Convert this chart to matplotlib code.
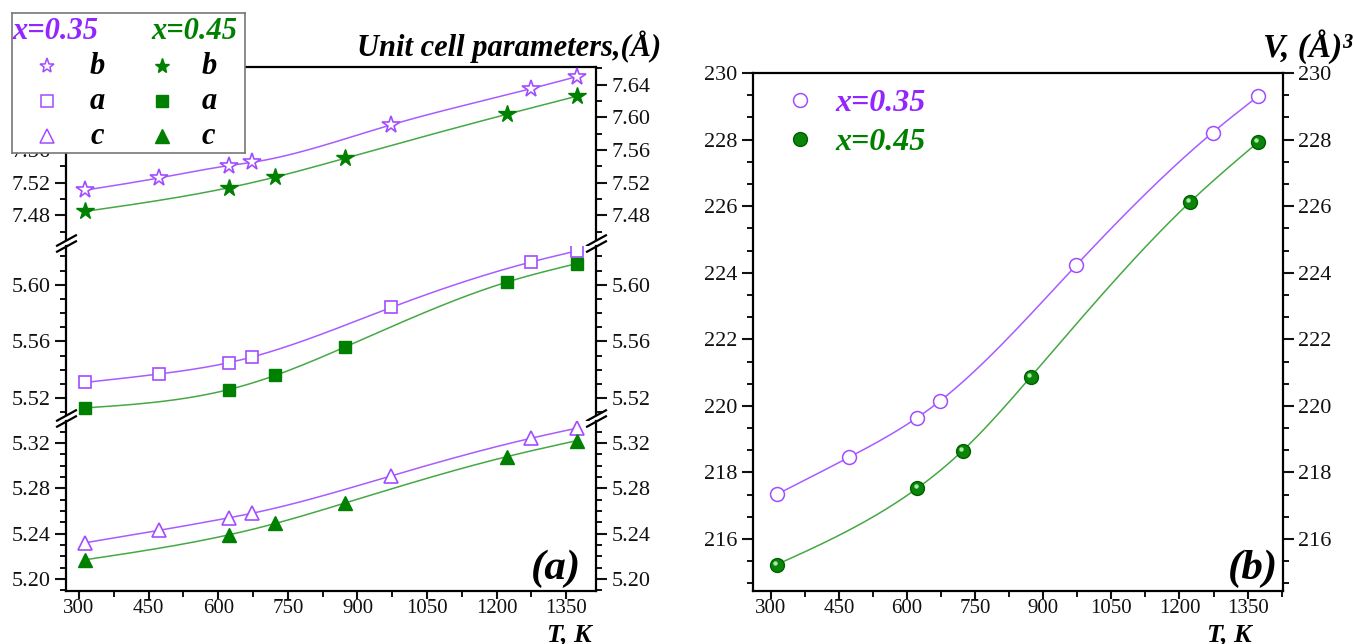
import numpy as np
import matplotlib
matplotlib.use("Agg")
import matplotlib.pyplot as plt
import matplotlib.transforms as mtransforms
from matplotlib.ticker import MultipleLocator

plt.rcParams['font.family'] = ['Liberation Serif', 'DejaVu Serif']

# temperatures, K
T35 = [313, 473, 623, 673, 973, 1273, 1373]
T45 = [313, 623, 723, 873, 1223, 1373]
# lattice parameters, Angstrom
b35 = [7.511, 7.526, 7.541, 7.545, 7.591, 7.635, 7.650]
b45 = [7.485, 7.514, 7.527, 7.550, 7.604, 7.626]
a35 = [5.531, 5.537, 5.545, 5.549, 5.584, 5.616, 5.624]
a45 = [5.513, 5.526, 5.536, 5.556, 5.602, 5.615]
c35 = [5.232, 5.243, 5.254, 5.258, 5.291, 5.324, 5.333]
c45 = [5.217, 5.239, 5.249, 5.267, 5.308, 5.322]
# cell volume, A^3
V35 = [217.34, 218.46, 219.65, 220.15, 224.23, 228.21, 229.30]
V45 = [215.23, 217.53, 218.66, 220.88, 226.12, 227.92]

xticks = [300, 450, 600, 750, 900, 1050, 1200, 1350]

PURPLE = '#a24cff'
PTEXT = '#9326ff'
GREEN = '#008000'
PLINE = '#a85cff'
GLINE = '#45a845'
BI = dict(fontweight='bold', fontstyle='italic')


def smooth(x, y, n=300):
    # natural cubic spline, only for drawing the connecting curve
    x = np.asarray(x, float)
    y = np.asarray(y, float)
    m = len(x)
    h = np.diff(x)
    A = np.zeros((m, m))
    r = np.zeros(m)
    A[0, 0] = A[-1, -1] = 1
    for i in range(1, m - 1):
        A[i, i - 1] = h[i - 1]
        A[i, i] = 2 * (h[i - 1] + h[i])
        A[i, i + 1] = h[i]
        r[i] = 3 * ((y[i + 1] - y[i]) / h[i] - (y[i] - y[i - 1]) / h[i - 1])
    c = np.linalg.solve(A, r)
    b = (y[1:] - y[:-1]) / h - h * (2 * c[:-1] + c[1:]) / 3
    d = (c[1:] - c[:-1]) / (3 * h)
    xs = np.linspace(x[0], x[-1], n)
    idx = np.clip(np.searchsorted(x, xs) - 1, 0, m - 2)
    dx = xs - x[idx]
    return xs, y[idx] + b[idx] * dx + c[idx] * dx ** 2 + d[idx] * dx ** 3


def style(ax):
    for s in ax.spines.values():
        s.set_linewidth(1.6)
    ax.tick_params(axis='both', which='major', direction='out', length=8,
                   width=1.5, labelsize=16, colors='#111111', pad=3)
    ax.tick_params(axis='x', which='major', pad=0, length=6, labelsize=15)
    ax.tick_params(axis='both', which='minor', direction='out', length=4,
                   width=1.3)
    ax.tick_params(axis='y', which='both', left=True, right=True,
                   labelleft=True, labelright=True)
    ax.tick_params(axis='x', which='both', top=False)


fig = plt.figure(figsize=(13.54, 6.44), dpi=100)
W, H = 1354.0, 644.0


def rect(x0, y0, x1, y1):
    return [x0 / W, 1 - y1 / H, (x1 - x0) / W, (y1 - y0) / H]


# ---- (a) broken axis ----
ax_b = fig.add_axes(rect(66, 67, 596, 240))
ax_a = fig.add_axes(rect(66, 246, 596, 415))
ax_c = fig.add_axes(rect(66, 421, 596, 591))

panels = [
    (ax_b, b35, b45, '*', (7.450, 7.6617), 0.04, 0.02, 13),
    (ax_a, a35, a45, 's', (5.508, 5.6274), 0.04, 0.01, 9),
    (ax_c, c35, c45, '^', (5.1895, 5.3393), 0.04, 0.01, 10),
]
for ax, y35, y45, mk, ylim, maj, mnr, ms in panels:
    xs, ys = smooth(T35, y35)
    ax.plot(xs, ys, color=PLINE, lw=1.1, zorder=2)
    xs, ys = smooth(T45, y45)
    ax.plot(xs, ys, color=GLINE, lw=1.1, zorder=2)
    ax.plot(T35, y35, ls='none', marker=mk, ms=ms, mfc='white', mec=PURPLE,
            mew=1.2, zorder=3)
    ax.plot(T45, y45, ls='none', marker=mk, ms=ms, mfc=GREEN, mec=GREEN,
            mew=1.0, zorder=3)
    ax.set_xlim(272, 1414)
    ax.set_ylim(*ylim)
    ax.yaxis.set_major_locator(MultipleLocator(maj))
    ax.yaxis.set_minor_locator(MultipleLocator(mnr))
    ax.yaxis.set_major_formatter(plt.FormatStrFormatter('%.2f'))
    ax.set_xticks(xticks)
    ax.xaxis.set_minor_locator(MultipleLocator(75))
    style(ax)

ax_b.spines['bottom'].set_visible(False)
ax_a.spines['top'].set_visible(False)
ax_a.spines['bottom'].set_visible(False)
ax_c.spines['top'].set_visible(False)
for ax in (ax_b, ax_a):
    ax.tick_params(axis='x', which='both', bottom=False, labelbottom=False)

# break marks
kw = dict(marker=[(-1, -0.55), (1, 0.55)], markersize=15, ls='none',
          color='k', mec='k', mew=1.6, clip_on=False)
ax_b.plot([0, 1], [0, 0], transform=ax_b.transAxes, **kw)
ax_a.plot([0, 1], [1, 1], transform=ax_a.transAxes, **kw)
ax_a.plot([0, 1], [0, 0], transform=ax_a.transAxes, **kw)
ax_c.plot([0, 1], [1, 1], transform=ax_c.transAxes, **kw)

ax_c.text(0.972, 0.015, '(a)', transform=ax_c.transAxes, ha='right',
          va='bottom', fontsize=31, **BI)
fig.text(661 / W, 1 - 56 / H, 'Unit cell parameters,(Å)', ha='right',
         va='baseline', fontsize=22, **BI)
fig.text(592 / W, 1 - 641 / H, 'T, K', ha='right', va='baseline',
         fontsize=19, **BI)

# legend box for (a)
lg = fig.add_axes(rect(12, 13, 245, 153))
lg.set_xlim(0, 1)
lg.set_ylim(0, 1)
lg.set_xticks([])
lg.set_yticks([])
lg.set_facecolor('white')
for s in lg.spines.values():
    s.set_color('#777777')
    s.set_linewidth(1.2)
lg.set_zorder(10)
tk = dict(fontsize=22, va='center', **BI)
lg.text(0.0, 0.87, 'x=0.35', color=PTEXT, ha='left', **tk)
lg.text(0.60, 0.87, 'x=0.45', color=GREEN, ha='left', **tk)
for yy, mk, lab, ms in [(0.62, '*', 'b', 11), (0.37, 's', 'a', 8),
                        (0.12, '^', 'c', 10)]:
    lg.plot([0.15], [yy], marker=mk, ms=ms, mfc='white', mec=PURPLE, mew=1.1)
    lg.plot([0.645], [yy], marker=mk, ms=ms, mfc=GREEN, mec=GREEN)
    lg.text(0.335, yy, lab, color='black', ha='left', **tk)
    lg.text(0.815, yy, lab, color='black', ha='left', **tk)

# ---- (b) volume ----
axv = fig.add_axes(rect(753, 73, 1283, 591))
xs, ys = smooth(T35, V35)
axv.plot(xs, ys, color=PLINE, lw=1.1, zorder=2)
xs, ys = smooth(T45, V45)
axv.plot(xs, ys, color=GLINE, lw=1.1, zorder=2)
h35, = axv.plot(T35, V35, ls='none', marker='o', ms=10, mfc='white',
                mec=PURPLE, mew=1.1, zorder=3)
h45, = axv.plot(T45, V45, ls='none', marker='o', ms=10, mfc='#0a850a',
                mec='#006000', mew=1.0, zorder=3)
shine = axv.transData + mtransforms.ScaledTranslation(-1.8 / 100, 1.8 / 100,
                                                      fig.dpi_scale_trans)
axv.plot(T45, V45, ls='none', marker='o', ms=3.2, mfc='#a8eaa8', mec='none',
         transform=shine, zorder=4)
axv.set_xlim(261, 1428)
axv.set_ylim(214.44, 230)
axv.set_xticks(xticks)
axv.xaxis.set_minor_locator(MultipleLocator(75))
axv.yaxis.set_major_locator(MultipleLocator(2))
axv.yaxis.set_minor_locator(MultipleLocator(2 / 3))
style(axv)

leg = axv.legend([h35, h45], ['x=0.35', 'x=0.45'], loc='upper left',
                 bbox_to_anchor=(0.005, 1.025), frameon=False,
                 handlelength=1.0, handletextpad=0.6, labelspacing=0.3,
                 prop=dict(family='Liberation Serif', size=23, weight='bold',
                           style='italic'))
for t, c in zip(leg.get_texts(), [PTEXT, GREEN]):
    t.set_color(c)

axv.text(0.99, 0.005, '(b)', transform=axv.transAxes, ha='right',
         va='bottom', fontsize=31, **BI)
fig.text(1352 / W, 1 - 57 / H, 'V, (Å)³', ha='right', va='baseline',
         fontsize=24, **BI)
fig.text(1252 / W, 1 - 641 / H, 'T, K', ha='right', va='baseline',
         fontsize=19, **BI)

fig.savefig('out.png', dpi=100)
